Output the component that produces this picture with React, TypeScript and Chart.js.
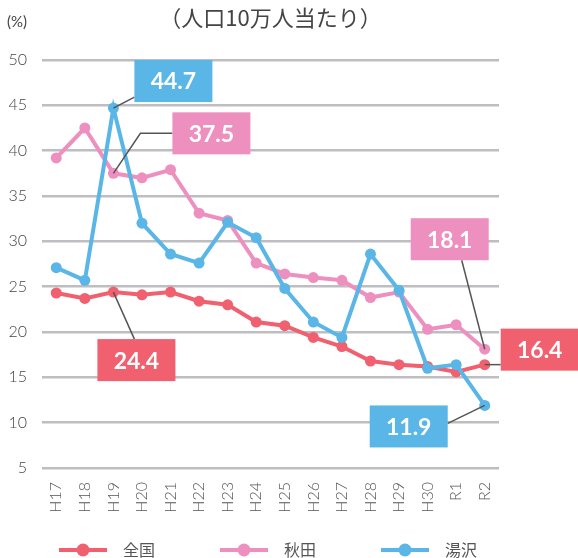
import React, { useEffect, useRef } from "react";
import { Chart, registerables } from "chart.js";

Chart.register(...registerables);

const categories = ["H17", "H18", "H19", "H20", "H21", "H22", "H23", "H24", "H25", "H26", "H27", "H28", "H29", "H30", "R1", "R2"];
const zenkoku = [24.3, 23.7, 24.4, 24.1, 24.4, 23.4, 23.0, 21.1, 20.7, 19.4, 18.4, 16.8, 16.4, 16.2, 15.6, 16.4];
const akita = [39.2, 42.5, 37.5, 37.0, 37.9, 33.1, 32.3, 27.6, 26.4, 26.0, 25.7, 23.8, 24.4, 20.3, 20.8, 18.1];
const yuzawa = [27.1, 25.7, 44.7, 32.0, 28.6, 27.6, 32.1, 30.4, 24.8, 21.1, 19.4, 28.6, 24.6, 16.0, 16.4, 11.9];
const seriesNames = ["全国", "秋田", "湯沢"];
const yTicks = [5, 10, 15, 20, 25, 30, 35, 40, 45, 50];
const titleText = "（人口10万人当たり）";
const unitText = "(%)";

const RED = "#F0606E";
const PINK = "#EE90BF";
const BLUE = "#5AB6E6";
const COLORS = [RED, PINK, BLUE];

// callouts: dataset index, point index, box offset from point, leader path offsets
const callouts = [
  { ds: 2, idx: 2, dx: 21, dy: -48, path: [[0, 0], [21, -11]] },
  { ds: 1, idx: 2, dx: 59, dy: -61, path: [[0, 0], [27, -40], [59, -40]] },
  { ds: 0, idx: 2, dx: -16, dy: 47, path: [[0, 0], [21, 47]] },
  { ds: 1, idx: 15, dx: -74, dy: -131, path: [[0, 0], [-23, -89]] },
  { ds: 0, idx: 15, dx: 16, dy: -36, path: [[0, 0], [16, 0]] },
  { ds: 2, idx: 15, dx: -115, dy: 0, path: [[0, 0], [-37, 18]] },
];

const NUM_FONT = "Lato, 'Noto Sans', sans-serif";
const JP_FONT = "'Noto Sans CJK JP', sans-serif";

const decorPlugin = {
  id: "decor",
  afterDatasetsDraw(chart: any) {
    const ctx = chart.ctx;
    ctx.save();
    callouts.forEach((c) => {
      const meta = chart.getDatasetMeta(c.ds);
      const pt = meta.data[c.idx];
      const px = pt.x;
      const py = pt.y;
      ctx.strokeStyle = "#555555";
      ctx.lineWidth = 1.5;
      ctx.beginPath();
      c.path.forEach((p, i) => {
        if (i === 0) ctx.moveTo(px + p[0], py + p[1]);
        else ctx.lineTo(px + p[0], py + p[1]);
      });
      ctx.stroke();
    });
    callouts.forEach((c) => {
      const meta = chart.getDatasetMeta(c.ds);
      const pt = meta.data[c.idx];
      const w = 78;
      const h = 42;
      const bx = pt.x + c.dx;
      const by = pt.y + c.dy;
      ctx.fillStyle = COLORS[c.ds];
      ctx.fillRect(bx, by, w, h);
      const value = chart.data.datasets[c.ds].data[c.idx];
      ctx.fillStyle = "#ffffff";
      ctx.font = "bold 23px " + NUM_FONT;
      ctx.textAlign = "center";
      ctx.textBaseline = "middle";
      ctx.fillText(Number(value).toFixed(1), bx + w / 2, by + h / 2 + 1);
    });
    ctx.restore();
  },
  afterDraw(chart: any) {
    const ctx = chart.ctx;
    const area = chart.chartArea;
    ctx.save();
    // title
    ctx.fillStyle = "#444444";
    ctx.font = "22px " + JP_FONT;
    ctx.textAlign = "center";
    ctx.textBaseline = "middle";
    ctx.fillText(titleText, (area.left + area.right) / 2, 18);
    // unit
    ctx.font = "15px " + NUM_FONT;
    ctx.textAlign = "left";
    ctx.fillText(unitText, 7, 22);
    // legend
    const starts = [59, 220, 381];
    const ly = 550;
    chart.data.datasets.forEach((ds: any, i: number) => {
      const x0 = starts[i];
      ctx.strokeStyle = ds.borderColor;
      ctx.lineWidth = 4;
      ctx.beginPath();
      ctx.moveTo(x0, ly);
      ctx.lineTo(x0 + 48, ly);
      ctx.stroke();
      ctx.fillStyle = ds.borderColor;
      ctx.beginPath();
      ctx.arc(x0 + 24, ly, 6.5, 0, Math.PI * 2);
      ctx.fill();
      ctx.fillStyle = "#555555";
      ctx.font = "16px " + JP_FONT;
      ctx.textAlign = "left";
      ctx.textBaseline = "middle";
      ctx.fillText(ds.label, x0 + 64, ly);
    });
    ctx.restore();
  },
};

export default function App() {
  const ref = useRef<HTMLCanvasElement | null>(null);
  useEffect(() => {
    if (!ref.current) return;
    const series = [zenkoku, akita, yuzawa];
    const orders = [2, 1, 0];
    const chart = new Chart(ref.current, {
      type: "line",
      data: {
        labels: categories,
        datasets: series.map((d, i) => ({
          label: seriesNames[i],
          data: d,
          borderColor: COLORS[i],
          backgroundColor: COLORS[i],
          pointBackgroundColor: COLORS[i],
          pointBorderWidth: 0,
          pointRadius: 5.5,
          borderWidth: 4,
          tension: 0,
          order: orders[i],
        })),
      },
      options: {
        responsive: false,
        animation: false,
        layout: { padding: { top: 60, right: 79, left: 0, bottom: 40 } },
        plugins: {
          legend: { display: false },
          title: { display: false },
          tooltip: { enabled: false },
        },
        scales: {
          x: {
            offset: true,
            grid: { display: false, drawTicks: false },
            border: { display: false },
            afterFit: (s: any) => {
              s.height = 50;
            },
            ticks: {
              minRotation: 90,
              maxRotation: 90,
              autoSkip: false,
              padding: 14,
              color: "#555555",
              font: { size: 16, family: NUM_FONT, weight: "300" },
            },
          },
          y: {
            min: 5,
            max: 50,
            afterFit: (s: any) => {
              s.width = 42;
            },
            afterBuildTicks: (s: any) => {
              s.ticks = yTicks.map((v) => ({ value: v }));
            },
            grid: { color: "#BEBEC2", lineWidth: 2.5, drawTicks: false },
            border: { display: false },
            ticks: {
              padding: 15,
              color: "#444444",
              font: { size: 16, family: NUM_FONT, weight: "300" },
            },
          },
        },
      },
      plugins: [decorPlugin],
    });
    return () => chart.destroy();
  }, []);
  return (
    <div style={{ position: "fixed", left: 0, top: 0, width: 578, height: 558, background: "#fff" }}>
      <canvas ref={ref} width={578} height={558} style={{ display: "block" }} />
    </div>
  );
}
